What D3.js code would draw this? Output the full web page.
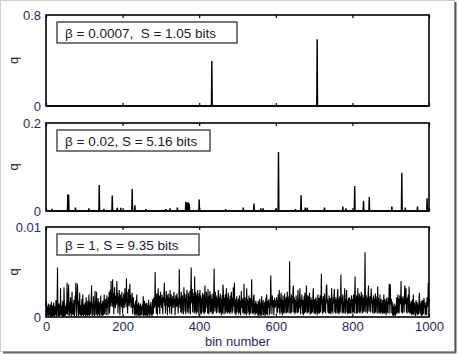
<!DOCTYPE html>
<html>
<head>
<meta charset="utf-8">
<script src="https://cdn.jsdelivr.net/npm/d3@7"></script>
<style>
  body { margin: 0; background: #fff; }
  svg text { font-family: "Liberation Sans", Arial, sans-serif; }
</style>
</head>
<body>
<svg id="chart" width="458" height="354"></svg>
<script>
// bins and tick labels
var nBins = 1000;
var xTicks = [0, 200, 400, 600, 800, 1000];

// panel 1: beta = 0.0007, only two bins carry weight
var bins1 = [433, 708];
var vals1 = [0.396, 0.586];

// panel 2: beta = 0.02, sparse spikes
var bins2 = [16, 57, 59, 77, 112, 139, 151, 173, 186, 195, 225, 232, 261, 313, 324, 343,
             365, 368, 371, 374, 400, 469, 515, 543, 561, 567, 600, 607, 651, 666, 677, 682,
             727, 775, 783, 806, 829, 844, 903, 929, 938, 970, 995];
var vals2 = [0.005, 0.038, 0.037, 0.008, 0.006, 0.059, 0.005, 0.035, 0.007, 0.007, 0.050, 0.013, 0.004, 0.004, 0.006, 0.008,
             0.021, 0.019, 0.020, 0.017, 0.026, 0.004, 0.008, 0.017, 0.006, 0.006, 0.005, 0.134, 0.004, 0.036, 0.008, 0.007,
             0.008, 0.010, 0.006, 0.057, 0.023, 0.032, 0.010, 0.087, 0.008, 0.010, 0.029];

// panel 3: beta = 1, every bin (units of 1e-4), rows of 50 bins
var vals3 = [
  18,4,1,12,2,15,1,10,2,14, 3,0,11,17,1,4,13,1,2,16, 10,1,3,12,2,19,4,1,14,55, 11,1,3,15,1,12,2,32,4,2, 13,1,10,18,2,0,33,14,1,4,
  12,2,15,4,38,14,2,20,36,11, 1,17,4,22,13,1,10,28,3,15, 2,12,19,1,4,24,14,38,10,1, 16,37,21,12,1,18,4,27,2,13, 10,1,15,20,2,25,11,1,14,3,
  4,16,1,12,22,2,14,1,18,10, 2,25,11,1,17,3,13,20,35,4, 1,15,11,23,2,12,1,29,10,14, 2,28,4,16,1,21,12,3,17,1, 13,10,24,2,15,4,1,18,11,2,
  14,25,3,17,11,20,2,15,24,10, 18,2,22,13,28,4,19,30,12,40, 16,23,11,42,14,26,3,21,33,17, 10,24,13,19,40,15,27,4,22,12, 30,18,2,25,14,20,11,28,16,4,
  21,13,26,10,18,32,15,24,11,43, 17,28,4,20,14,31,12,22,37,16, 25,10,19,13,27,3,17,22,11,15, 2,13,4,18,1,12,25,3,14,1, 11,16,2,13,1,10,15,2,12,4,
  2,14,10,23,1,12,18,2,11,15, 1,4,16,2,13,1,10,19,3,12, 1,14,4,17,2,11,1,15,20,3, 13,22,10,16,50,12,18,4,26,14, 2,21,32,11,17,24,3,15,28,13,
  19,10,25,14,3,22,16,27,38,12, 20,4,17,29,13,24,2,18,26,11, 15,21,4,30,16,12,25,3,19,14, 23,10,17,28,13,20,2,15,24,11, 18,26,12,21,4,16,14,53,19,10,
  22,5,28,17,4,24,15,20,3,33, 18,26,6,21,3,25,16,30,5,19, 10,27,4,22,17,29,3,24,55,20, 15,31,5,23,18,27,4,45,21,6, 28,3,25,19,5,30,17,22,2,26,
  18,30,4,24,16,3,21,14,27,5, 19,25,3,17,35,5,22,10,28,15, 20,4,31,17,3,23,14,29,5,18, 25,6,20,3,16,26,4,22,54,19, 6,28,10,21,4,24,12,19,5,30,
  13,22,4,18,26,5,20,2,15,24, 4,36,29,14,3,21,16,25,4,17, 32,6,22,4,18,27,5,20,15,3, 24,5,19,28,14,4,21,6,33,12, 18,38,4,20,14,2,17,23,5,15,
  12,20,3,16,24,5,18,2,14,29, 10,21,15,4,19,5,37,3,17,22, 4,16,2,32,14,20,4,18,6,24, 2,15,21,4,17,13,42,4,19,14, 3,22,25,5,16,2,13,18,4,15,
  4,14,2,18,11,1,13,20,3,15, 1,12,23,2,16,10,19,2,13,4, 17,1,11,21,3,25,14,2,18,10, 12,20,2,15,4,22,46,13,17,3, 24,11,16,19,2,14,21,10,18,12,
  15,22,4,18,5,25,10,20,30,6, 3,17,21,27,5,19,2,16,24,4, 18,6,26,4,20,15,22,4,17,28, 5,19,14,23,4,62,16,21,4,18, 25,5,20,15,32,35,5,22,17,3,
  19,5,24,11,17,4,21,30,5,18, 10,22,32,6,3,20,12,25,16,4, 19,2,14,23,4,27,17,5,21,35, 14,4,18,24,5,16,20,27,6,3, 17,22,4,15,19,5,24,32,14,4,
  13,20,3,16,22,5,18,2,14,25, 4,17,21,4,15,24,5,19,48,14, 20,3,17,23,5,16,26,6,19,4, 22,34,36,15,20,5,18,4,24,14, 4,21,16,3,19,32,6,17,4,22,
  15,24,31,5,19,4,22,14,17,4, 26,31,5,20,3,18,23,5,16,47, 14,21,4,19,25,5,17,4,22,32, 15,4,20,16,30,5,18,3,14,21, 4,17,22,5,4,19,15,24,4,18,
  20,5,25,16,4,22,45,14,19,4, 24,17,4,32,15,21,5,26,18,4, 23,6,28,16,20,4,25,5,19,22, 6,27,72,18,5,24,16,21,4,19, 26,35,6,20,17,23,5,18,32,15,
  22,5,18,4,24,15,20,4,17,26, 5,19,14,23,4,34,16,21,4,18, 5,25,4,17,20,5,15,3,19,14, 4,25,16,4,20,5,18,2,15,22, 5,17,4,21,14,37,19,4,36,16,
  14,20,4,17,2,12,1,10,15,2, 11,1,13,3,16,22,4,18,25,5, 20,4,17,24,14,19,40,5,21,16, 4,23,15,19,5,26,35,14,18,32, 5,20,4,22,16,25,5,34,17,4,
  15,4,18,12,2,14,20,3,25,11, 2,16,10,13,1,19,4,12,17,2, 14,11,3,20,27,13,4,15,2,18, 11,1,14,19,3,12,21,10,16,2, 13,4,17,2,22,15,11,38,14,20
];

var legends = ["\u03b2 = 0.0007,  S = 1.05 bits", "\u03b2 = 0.02, S = 5.16 bits", "\u03b2 = 1, S = 9.35 bits"];
var yMax = [0.8, 0.2, 0.01];
var yLabels = ["0.8", "0.2", "0.01"];

function sparseToSeries(bins, vals) {
    var s = d3.range(nBins).map(function() { return 0; });
    bins.forEach(function(b, i) { s[b - 1] = vals[i]; });
    return s;
}

var series = [
    sparseToSeries(bins1, vals1),
    sparseToSeries(bins2, vals2),
    vals3.map(function(v) { return v * 1e-4; })
];

var svg = d3.select("#chart");
var textColor = "#1f2c55";

// outer frame of the figure (screenshot border with shadow)
svg.append("rect").attr("x", 0.5).attr("y", 0.5).attr("width", 454).attr("height", 351)
    .attr("fill", "#fff").attr("stroke", "#d0d0d0");
svg.append("line").attr("x1", 455.5).attr("x2", 455.5).attr("y1", 2).attr("y2", 353)
    .attr("stroke", "#555").attr("stroke-width", 2);
svg.append("line").attr("x1", 3).attr("x2", 456).attr("y1", 352.5).attr("y2", 352.5)
    .attr("stroke", "#666").attr("stroke-width", 2);

var x = d3.scaleLinear().domain([0, nBins]).range([46, 429]);

// panel positions: top and bottom of each axes box
var panels = [
    { top: 15, bottom: 106, legendW: 180 },
    { top: 123, bottom: 211, legendW: 153 },
    { top: 227, bottom: 317, legendW: 142 }
];

panels.forEach(function(p, k) {
    var y = d3.scaleLinear().domain([0, yMax[k]]).range([p.bottom, p.top]);
    var g = svg.append("g");

    // data line
    var line = d3.line()
        .x(function(d, i) { return x(i + 1); })
        .y(function(d) { return y(d); });
    g.append("path")
        .datum(series[k])
        .attr("fill", "none")
        .attr("stroke", "#000")
        .attr("stroke-width", k == 2 ? 1.1 : 1.4)
        .attr("d", line);

    // inward ticks, top and bottom
    g.append("g")
        .attr("transform", "translate(0," + p.bottom + ")")
        .call(d3.axisBottom(x).tickValues(xTicks).tickSizeInner(-3).tickSizeOuter(0).tickFormat(""))
        .call(function(a) { a.select(".domain").remove(); a.selectAll("line").attr("stroke-width", 1.2); });
    g.append("g")
        .attr("transform", "translate(0," + p.top + ")")
        .call(d3.axisTop(x).tickValues(xTicks).tickSizeInner(-3).tickSizeOuter(0).tickFormat(""))
        .call(function(a) { a.select(".domain").remove(); a.selectAll("line").attr("stroke-width", 1.2); });

    // box
    g.append("rect")
        .attr("x", x(0)).attr("y", p.top)
        .attr("width", x(nBins) - x(0)).attr("height", p.bottom - p.top)
        .attr("fill", "none").attr("stroke", "#000").attr("stroke-width", 1.6);

    // y tick labels
    var ya = g.append("g")
        .attr("transform", "translate(" + (x(0) - 2) + ",0)")
        .call(d3.axisLeft(y).tickValues([0, yMax[k]]).tickSize(0)
            .tickFormat(function(d) { return d == 0 ? "0" : yLabels[k]; }));
    ya.select(".domain").remove();
    ya.selectAll("text").attr("font-size", 13).attr("fill", textColor)
        .attr("font-family", "Liberation Sans, Arial, sans-serif");

    // y label
    g.append("text")
        .attr("transform", "translate(18," + ((p.top + p.bottom) / 2) + ") rotate(-90)")
        .attr("text-anchor", "middle")
        .attr("font-size", 13)
        .attr("fill", "#111")
        .text("q");

    // legend box
    g.append("rect")
        .attr("x", 57).attr("y", p.top + 7)
        .attr("width", p.legendW).attr("height", 21)
        .attr("fill", "#fff").attr("stroke", "#333").attr("stroke-width", 1.3);
    g.append("text")
        .attr("x", 65).attr("y", p.top + 23)
        .attr("font-size", 13.5)
        .attr("fill", "#1a1a2e")
        .attr("xml:space", "preserve")
        .style("white-space", "pre")
        .text(legends[k]);

    // x tick labels only under the last panel
    if (k == 2) {
        var xa = g.append("g")
            .attr("transform", "translate(0," + p.bottom + ")")
            .call(d3.axisBottom(x).tickValues(xTicks).tickSize(0).tickPadding(5).tickFormat(d3.format("d")));
        xa.select(".domain").remove();
        xa.selectAll("text").attr("font-size", 13).attr("fill", textColor)
            .attr("font-family", "Liberation Sans, Arial, sans-serif");

        g.append("text")
            .attr("x", (x(0) + x(nBins)) / 2).attr("y", 346)
            .attr("text-anchor", "middle")
            .attr("font-size", 13)
            .attr("fill", textColor)
            .text("bin number");
    }
});
</script>
</body>
</html>
